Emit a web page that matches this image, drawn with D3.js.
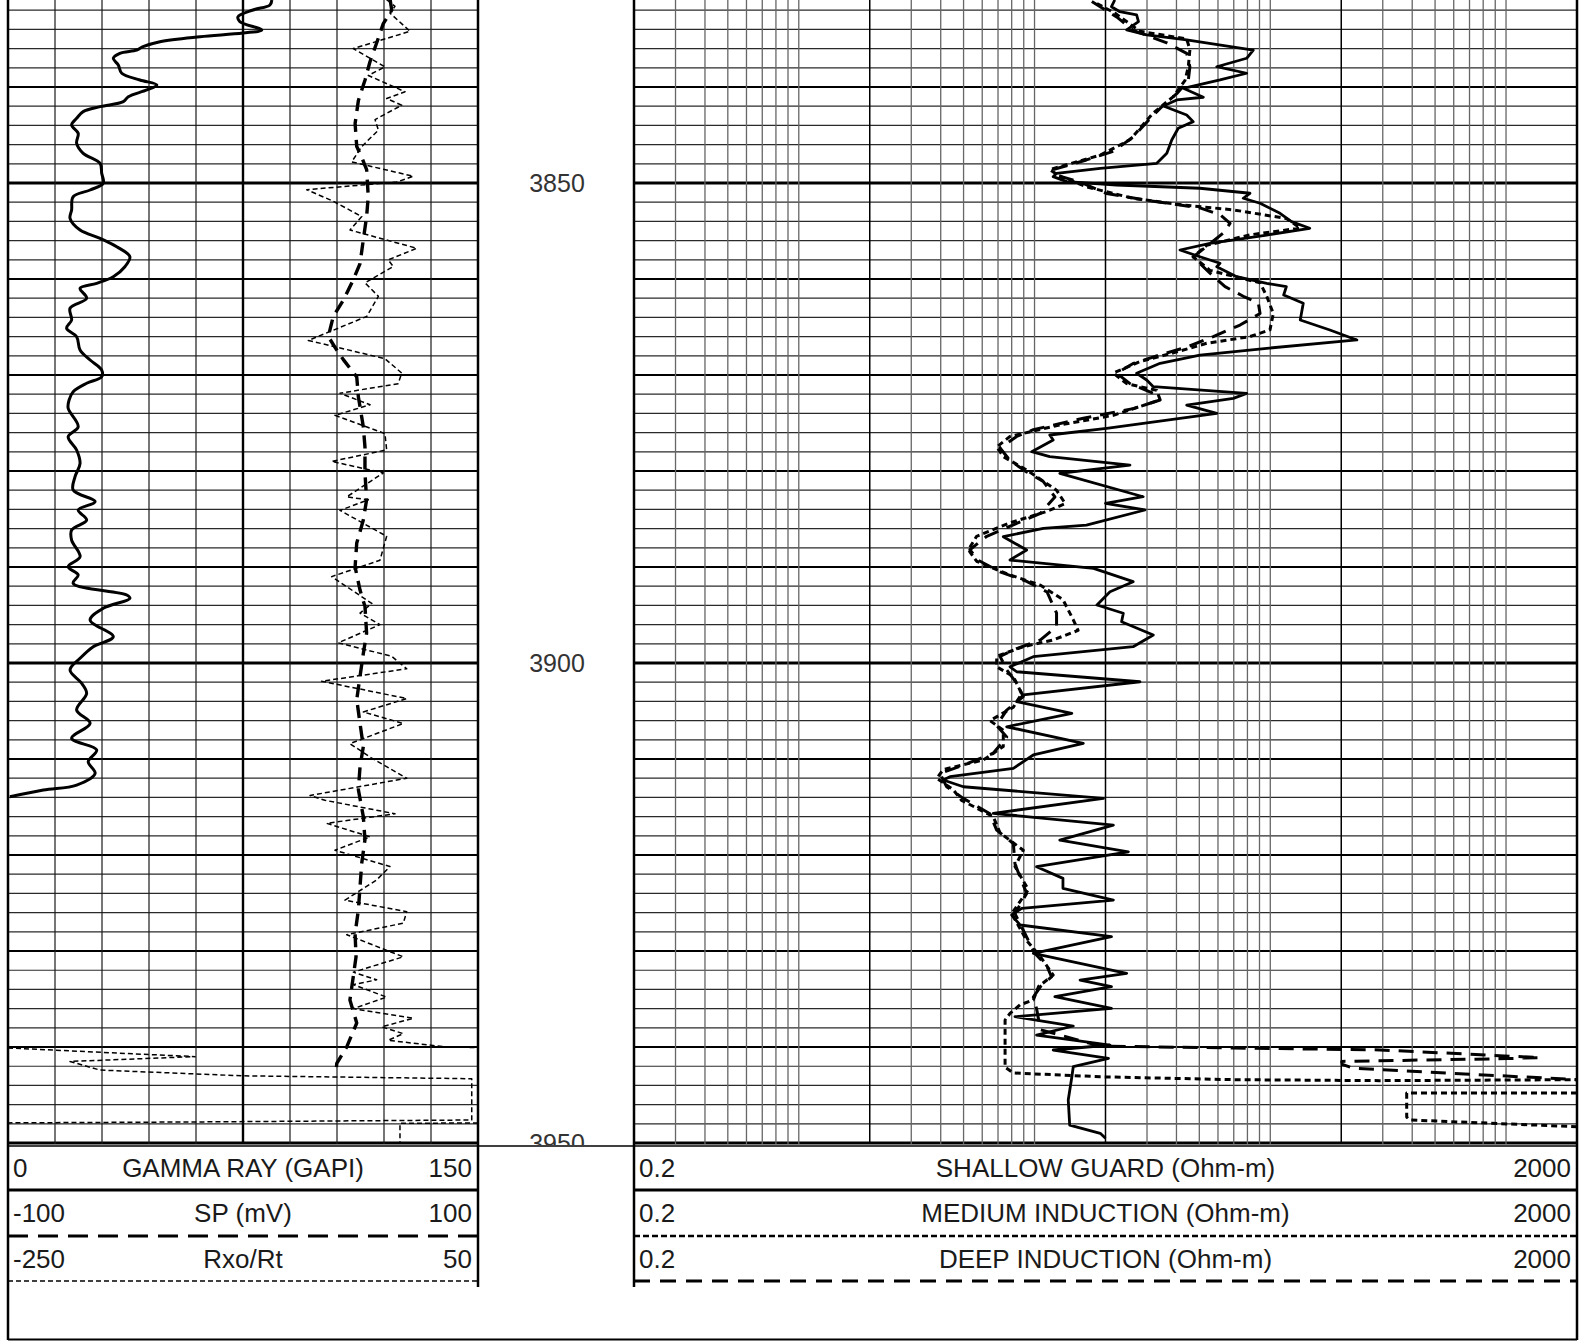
<!DOCTYPE html>
<html>
<head>
<meta charset="utf-8">
<script src="https://cdn.jsdelivr.net/npm/d3@7"></script>
<style>
body{margin:0;background:#fff;}
text{font-family:"Liberation Sans",Arial,sans-serif;}
</style>
</head>
<body>
<div id="log"></div>
<script>

// depth labels and header texts
var depthLabels=[3850,3900,3950];
var leftHeader=[["0","GAMMA RAY (GAPI)","150"],["-100","SP (mV)","100"],["-250","Rxo/Rt","50"]];
var rightHeader=[["0.2","SHALLOW GUARD (Ohm-m)","2000"],["0.2","MEDIUM INDUCTION (Ohm-m)","2000"],["0.2","DEEP INDUCTION (Ohm-m)","2000"]];

// [depth, value]
var gammaRay=[[3830.94,84.2],[3831.46,83.6],[3831.98,78.2],[3832.68,73.4],[3833.20,74.0],[3834.06,81.0],[3834.38,75.0],[3834.76,61.3],[3835.28,48.5],[3835.80,43.1],[3836.15,41.1],[3836.49,35.7],[3837.01,33.6],[3837.71,35.2],[3838.57,36.3],[3839.27,42.1],[3839.79,47.5],[3840.31,44.3],[3841.01,38.4],[3841.53,36.8],[3842.05,29.4],[3842.57,24.0],[3843.26,21.9],[3843.96,20.3],[3844.82,22.4],[3845.86,21.9],[3846.91,24.0],[3847.95,29.4],[3848.99,29.9],[3850.03,30.4],[3850.73,26.2],[3851.43,20.8],[3852.81,20.3],[3853.68,19.8],[3854.90,23.0],[3855.76,29.4],[3856.64,34.7],[3857.68,38.9],[3858.72,37.3],[3859.76,33.6],[3860.45,28.3],[3860.97,23.0],[3862.01,25.1],[3863.05,19.8],[3864.27,20.3],[3865.14,18.7],[3866.01,21.9],[3867.40,23.0],[3868.44,26.2],[3869.48,29.9],[3870.18,29.9],[3870.86,25.1],[3871.74,20.8],[3872.60,19.5],[3873.47,19.2],[3875.39,22.4],[3876.43,19.2],[3877.81,21.9],[3879.20,23.0],[3880.59,21.4],[3881.98,20.8],[3883.20,27.8],[3884.06,22.4],[3885.10,25.1],[3886.15,20.3],[3887.19,20.3],[3888.93,23.0],[3889.97,19.2],[3890.83,22.4],[3891.70,20.8],[3892.92,37.9],[3893.26,38.9],[3894.30,30.4],[3895.52,26.2],[3897.26,33.6],[3898.30,27.2],[3899.51,23.0],[3900.73,19.8],[3902.11,23.5],[3903.16,25.1],[3904.90,21.9],[3906.28,26.2],[3907.84,20.3],[3909.06,28.3],[3910.28,25.6],[3911.49,27.8],[3912.71,21.9],[3913.23,11.3],[3913.93,0.6]];

var sp=[[3830.9,62.6],[3832.0,63.3],[3833.4,59.7],[3835.4,56.9],[3837.4,54.0],[3839.3,51.9],[3841.4,49.1],[3843.8,47.7],[3846.2,48.4],[3847.3,50.5],[3848.6,52.6],[3851.4,53.3],[3853.5,52.6],[3855.9,51.2],[3858.4,49.8],[3860.1,46.9],[3862.2,42.7],[3863.9,38.4],[3866.0,36.3],[3867.4,39.9],[3868.4,42.7],[3870.2,48.4],[3872.3,49.1],[3873.3,49.8],[3875.4,51.2],[3877.5,51.9],[3880.2,51.9],[3883.0,52.6],[3885.1,51.2],[3887.5,48.4],[3890.0,47.7],[3892.4,49.8],[3894.1,51.9],[3896.9,52.6],[3899.0,51.2],[3901.4,49.8],[3903.8,48.4],[3906.3,49.8],[3908.7,51.2],[3910.8,49.8],[3913.2,49.1],[3916.0,51.2],[3918.4,51.9],[3920.9,50.5],[3923.3,49.8],[3925.7,49.1],[3928.2,47.7],[3930.6,48.1],[3932.7,46.9],[3935.1,45.5],[3937.5,48.4],[3940.0,44.1],[3941.7,39.9],[3942.6,39.6]];

// null = break where the trace wraps round the scale
var rxoRt=[[3830.9,-8.3],[3831.6,-3.0],[3832.3,-6.2],[3834.2,6.6],[3836.0,-29.6],[3837.9,-9.4],[3838.8,-20.0],[3840.5,3.4],[3841.2,-8.3],[3841.9,1.3],[3843.4,-15.7],[3844.5,-13.6],[3846.2,-24.2],[3847.8,-30.6],[3849.3,8.7],[3849.9,-1.9],[3850.7,-59.3],[3851.9,-42.4],[3853.5,-24.2],[3854.9,-31.7],[3856.8,10.9],[3858.0,-7.3],[3858.7,-4.1],[3860.4,-22.1],[3861.8,-13.6],[3863.9,-21.0],[3866.4,-58.3],[3868.3,-9.4],[3869.8,1.3],[3870.9,-0.9],[3871.9,-38.1],[3873.1,-18.9],[3874.2,-41.3],[3876.1,-9.4],[3877.8,-8.3],[3879.0,-43.4],[3880.2,-10.4],[3882.7,-33.8],[3883.0,-20.0],[3884.1,-38.1],[3886.8,-8.3],[3889.3,-12.6],[3891.0,-43.4],[3893.8,-17.8],[3894.8,-25.3],[3896.0,-12.6],[3897.9,-39.2],[3899.3,-5.1],[3900.6,4.5],[3901.9,-49.8],[3903.7,4.5],[3905.1,-23.2],[3906.3,2.3],[3908.4,-31.7],[3909.8,-18.9],[3912.0,4.5],[3913.8,-57.2],[3914.3,-47.7],[3915.7,-3.0],[3916.7,-46.6],[3918.1,-18.9],[3919.5,-41.3],[3921.2,-6.2],[3922.6,-14.7],[3924.7,-34.9],[3925.9,4.5],[3927.1,2.3],[3928.3,-33.8],[3930.6,2.3],[3932.2,-29.6],[3933.0,-14.7],[3933.5,-29.6],[3934.8,-8.3],[3936.0,-29.6],[3937.0,8.7],[3937.9,-11.5],[3938.6,2.3],[3939.3,-7.3],[3940.0,30.0],[3940.05,50],null,[3940.1,-250],[3941.0,-130.6],[3941.5,-210.4],[3942.4,-191.3],[3943.0,-100],[3943.3,46.0],[3947.6,46.0],[3947.8,-127.4],[3947.9,-250],null,[3947.9,50],[3947.95,0.2],[3950.1,0.2]];

var shallowGuard=[[3830.94,21.9],[3831.64,21.2],[3832.16,23.0],[3832.50,27.1],[3833.20,27.6],[3834.06,24.6],[3834.58,29.9],[3835.10,44.2],[3836.15,84.7],[3837.01,79.4],[3837.89,59.3],[3838.57,79.4],[3839.27,61.2],[3840.14,42.8],[3841.07,52.0],[3841.35,40.1],[3841.98,35.2],[3842.92,44.2],[3843.61,47.1],[3844.30,40.7],[3845.52,38.2],[3846.91,36.4],[3847.95,33.0],[3848.47,19.0],[3848.99,12.4],[3849.34,12.0],[3849.86,13.7],[3850.21,22.3],[3850.55,50.3],[3851.07,82.0],[3851.59,76.8],[3852.11,90.5],[3853.16,110],[3854.03,123],[3854.72,147],[3855.42,96.6],[3856.28,55.5],[3856.98,41.4],[3857.68,50.3],[3858.36,61.2],[3858.72,59.3],[3859.76,72.0],[3860.45,96.6],[3860.80,117],[3861.67,114],[3862.53,138],[3864.27,134],[3865.31,179],[3866.35,233],[3867.22,96.6],[3867.92,50.3],[3868.78,34.1],[3869.82,27.1],[3870.52,29.9],[3871.22,31.9],[3871.91,79.4],[3872.43,69.7],[3873.13,44.2],[3873.99,59.3],[3875.55,20.2],[3876.25,11.6],[3876.77,12.0],[3877.99,9.73],[3878.51,11.6],[3879.38,25.4],[3880.24,12.8],[3882.68,28.9],[3883.36,20.0],[3884.06,29.4],[3885.63,16.6],[3885.97,10.9],[3886.84,7.37],[3888.23,9.26],[3889.27,7.87],[3890.14,17.8],[3891.53,26.2],[3892.57,20.9],[3893.96,18.4],[3894.82,23.8],[3895.70,23.4],[3897.08,31.9],[3898.30,26.2],[3899.34,9.88],[3900.39,7.87],[3900.91,8.40],[3901.95,28.0],[3903.33,8.96],[3904.03,8.40],[3905.24,14.4],[3906.64,7.62],[3908.36,16.1],[3909.58,9.88],[3910.97,8.13],[3911.84,4.38],[3912.19,4.10],[3912.89,4.99],[3914.09,19.6],[3915.66,6.68],[3916.88,21.6],[3918.44,12.8],[3919.66,25.0],[3921.22,10.2],[3922.43,13.2],[3923.47,13.2],[3924.69,21.6],[3925.55,8.82],[3926.25,8.00],[3927.29,8.68],[3928.51,21.2],[3930.24,9.88],[3932.32,24.6],[3933.02,15.6],[3933.72,21.2],[3934.76,12.2],[3935.97,21.2],[3936.84,8.26],[3937.81,14.6],[3938.75,10.2],[3939.79,20.9],[3940.31,12.0],[3941.18,20.6],[3942.05,14.6],[3943.09,14.4],[3945.52,13.9],[3948.13,14.1],[3948.99,19.0],[3949.51,20.0]];

var mediumInd=[[3831.3,18.4],[3832.3,21.9],[3834.2,28.0],[3835.0,44.2],[3836.1,45.6],[3837.9,44.9],[3839.3,43.5],[3841.0,38.8],[3842.7,31.9],[3845.5,25.4],[3847.1,19.0],[3848.6,11.6],[3849.3,12.8],[3850.4,16.6],[3851.6,26.2],[3852.3,42.8],[3852.8,69.7],[3853.7,117],[3854.7,134],[3855.4,82.0],[3856.5,53.7],[3857.7,47.1],[3859.1,55.5],[3859.8,72.0],[3860.4,90.5],[3861.8,96.6],[3863.6,103],[3865.3,99.7],[3866.0,82.0],[3866.7,53.7],[3867.7,38.8],[3868.6,28.0],[3869.8,21.6],[3870.9,24.6],[3871.6,33.0],[3872.6,34.1],[3874.2,21.6],[3875.2,12.8],[3876.4,7.87],[3877.5,6.91],[3878.5,7.37],[3879.9,9.26],[3882.0,12.4],[3883.4,13.5],[3884.2,11.3],[3885.4,7.87],[3886.8,5.68],[3888.2,5.24],[3889.4,5.68],[3890.7,7.62],[3891.9,10.6],[3893.4,13.2],[3895.5,14.6],[3896.6,15.3],[3897.6,12.0],[3898.3,8.96],[3899.3,6.91],[3900.4,6.91],[3901.4,8.13],[3903.2,8.82],[3904.6,8.13],[3906.0,6.47],[3907.0,7.37],[3908.7,7.37],[3910.1,6.06],[3911.1,4.10],[3912.0,3.85],[3913.2,4.52],[3914.3,4.9],[3916.0,6.68],[3917.7,7.14],[3919.5,8.96],[3921.2,8.26],[3923.6,9.41],[3926.1,8.00],[3928.9,9.26],[3930.6,10.6],[3932.5,12.0],[3933.7,10.4],[3935.1,9.88],[3935.6,8.68],[3936.5,7.87],[3937.2,7.50],[3942.1,7.50],[3942.7,8.13],[3943.1,19.0],[3943.4,69.7],[3943.5,292],[3943.4,2000],null,[3944.8,2000],[3944.8,379],[3947.3,379],[3947.6,391],[3948.3,2000]];

var deepInd=[[3831.1,17.5],[3832.7,22.3],[3834.1,26.2],[3835.4,36.4],[3836.5,44.2],[3837.9,45.6],[3839.3,44.9],[3840.7,40.1],[3841.9,35.2],[3843.3,30.9],[3845.2,26.2],[3846.7,21.6],[3847.6,16.6],[3848.6,12.0],[3849.2,12.4],[3849.9,15.6],[3851.1,20.2],[3851.9,31.9],[3852.6,50.3],[3853.3,61.2],[3854.2,67.5],[3855.2,63.2],[3856.6,53.7],[3857.7,47.1],[3859.4,55.5],[3860.8,64.3],[3861.8,76.8],[3862.5,89.0],[3863.6,90.5],[3864.8,74.4],[3866.0,57.3],[3867.1,44.2],[3867.9,34.1],[3868.8,26.2],[3869.8,22.3],[3870.9,25.4],[3871.9,31.9],[3872.6,34.1],[3873.5,26.2],[3874.5,16.1],[3875.7,9.88],[3876.4,8.40],[3877.6,7.14],[3878.9,7.87],[3880.1,9.26],[3881.1,10.9],[3882.7,12.2],[3884.4,10.6],[3885.6,8.13],[3886.8,6.27],[3888.2,5.32],[3889.3,5.77],[3890.5,7.14],[3891.5,9.26],[3892.6,11.3],[3894.8,12.4],[3896.2,12.4],[3897.6,10.6],[3898.5,8.40],[3899.3,7.14],[3900.7,7.62],[3902.1,8.40],[3903.5,8.96],[3904.9,7.62],[3906.5,6.91],[3907.7,7.62],[3909.4,6.68],[3910.5,5.16],[3911.5,3.97],[3912.9,4.24],[3914.1,4.99],[3915.7,6.47],[3917.4,6.91],[3918.8,8.13],[3920.9,8.26],[3922.3,8.68],[3924.0,9.26],[3926.1,8.26],[3928.2,9.11],[3930.2,10.0],[3931.6,11.3],[3932.7,11.8],[3933.7,10.6],[3934.8,9.88],[3936.0,10.2],[3938.2,10.6],[3939.9,19.0],[3940.1,69.7],[3940.3,292],[3941.1,1393],[3941.2,1019],[3941.5,201],[3941.8,202],[3942.2,224],[3943.4,2000]];

var width=1588,height=1341;
var L0=8,L1=478,R0=634,R1=1577,trackBottom=1144;

var svg=d3.select("#log").append("svg")
    .attr("width",width)
    .attr("height",height);

var defs=svg.append("defs");
defs.append("clipPath").attr("id","clipL").append("rect")
    .attr("x",L0).attr("y",0).attr("width",L1-L0).attr("height",trackBottom);
defs.append("clipPath").attr("id","clipR").append("rect")
    .attr("x",R0).attr("y",0).attr("width",R1-R0).attr("height",trackBottom);
defs.append("clipPath").attr("id","clipD").append("rect")
    .attr("x",L1).attr("y",0).attr("width",R0-L1).attr("height",trackBottom+1);

// scales
var y=d3.scaleLinear().domain([3830.94,3950.1]).range([0,trackBottom]);
var xGR=d3.scaleLinear().domain([0,150]).range([L0,L1]);
var xSP=d3.scaleLinear().domain([-100,100]).range([L0,L1]);
var xRxo=d3.scaleLinear().domain([-250,50]).range([L0,L1]);
var xRes=d3.scaleLog().domain([0.2,2000]).range([R0,R1]);

// grid: horizontal lines every 2 m
var depthTicks=d3.range(3832,3951,2);
function hStyle(d){
  if(d%50==0) return {c:"#000",w:3};
  if(d%10==0) return {c:"#000",w:2};
  return {c:"#2a2a2a",w:1.2};
}
[[L0,L1],[R0,R1]].forEach(function(t){
  svg.append("g").selectAll("line")
    .data(depthTicks).enter().append("line")
    .attr("x1",t[0]).attr("x2",t[1])
    .attr("y1",function(d){return y(d);})
    .attr("y2",function(d){return y(d);})
    .attr("stroke",function(d){return hStyle(d).c;})
    .attr("stroke-width",function(d){return hStyle(d).w;});
});

// left track verticals
svg.append("g").selectAll("line")
  .data(d3.range(15,150,15)).enter().append("line")
  .attr("x1",function(d){return xGR(d);})
  .attr("x2",function(d){return xGR(d);})
  .attr("y1",0).attr("y2",trackBottom)
  .attr("stroke",function(d){return d==75?"#000":"#1a1a1a";})
  .attr("stroke-width",function(d){return d==75?2.4:1.2;});

// right track log verticals
var logTicks=[];
[0.1,1,10,100,1000].forEach(function(p){
  d3.range(1,10).forEach(function(m){
    var v=+(m*p).toPrecision(3);
    if(v>0.2 && v<2000) logTicks.push(v);
  });
});
svg.append("g").selectAll("line")
  .data(logTicks).enter().append("line")
  .attr("x1",function(d){return xRes(d);})
  .attr("x2",function(d){return xRes(d);})
  .attr("y1",0).attr("y2",trackBottom)
  .attr("stroke",function(d){return (d==2||d==20||d==200)?"#000":"#666";})
  .attr("stroke-width",function(d){return (d==2||d==20||d==200)?1.5:1.3;});

// depth labels
svg.append("g").attr("clip-path","url(#clipD)")
  .selectAll("text").data(depthLabels).enter().append("text")
  .attr("x",(L1+R0)/2+1)
  .attr("y",function(d){return y(d)+9;})
  .attr("text-anchor","middle")
  .attr("font-size",25)
  .attr("fill","#333")
  .text(function(d){return d;});

// curves
function drawCurve(data,xs,clip,dash,w,curve){
  svg.append("path")
    .datum(data)
    .attr("clip-path","url(#"+clip+")")
    .attr("fill","none")
    .attr("stroke","#000")
    .attr("stroke-width",w)
    .attr("stroke-linejoin","round")
    .style("stroke-dasharray",dash)
    .attr("d",d3.line()
      .defined(function(d){return d!==null;})
      .curve(curve||d3.curveLinear)
      .x(function(d){return xs(d[1]);})
      .y(function(d){return y(d[0]);})
    );
}
drawCurve(rxoRt,xRxo,"clipL","5, 3",1.5);
drawCurve(sp,xSP,"clipL","13, 8",3.4);
drawCurve(gammaRay,xGR,"clipL",null,3,d3.curveCatmullRom.alpha(0.5));
drawCurve(deepInd,xRes,"clipR","15, 9",3);
drawCurve(mediumInd,xRes,"clipR","6, 4",3);
drawCurve(shallowGuard,xRes,"clipR",null,2.8);

// frame
function seg(x1,y1,x2,y2,w,dash){
  svg.append("line")
    .attr("x1",x1).attr("y1",y1).attr("x2",x2).attr("y2",y2)
    .attr("stroke","#000").attr("stroke-width",w)
    .style("stroke-dasharray",dash||null);
}
seg(L0,0,L0,1340,2.5);
seg(R1,0,R1,1340,2.5);
seg(L1,0,L1,1287,2.5);
seg(R0,0,R0,1287,2.5);
seg(L0,1146,R1,1146,1.5);
seg(L0,1339.5,R1,1339.5,2);

// header
var rowText=[1177,1222,1268];
var rowLine=[1190,1236,1281];
var leftStyle=[[null,3],["20, 10",3],["5, 3",1.5]];
var rightStyle=[[null,3],["6, 3",2.5],["16, 10",3]];
function header(labels,x0,x1,styles){
  labels.forEach(function(r,i){
    var g=svg.append("g").attr("font-size",26).attr("fill","#1a1a1a");
    g.append("text").attr("x",x0+5).attr("y",rowText[i]).text(r[0]);
    g.append("text").attr("x",(x0+x1)/2).attr("y",rowText[i]).attr("text-anchor","middle").text(r[1]);
    g.append("text").attr("x",x1-6).attr("y",rowText[i]).attr("text-anchor","end").text(r[2]);
    seg(x0,rowLine[i],x1,rowLine[i],styles[i][1],styles[i][0]);
  });
}
header(leftHeader,L0,L1,leftStyle);
header(rightHeader,R0,R1,rightStyle);

</script>
</body>
</html>
